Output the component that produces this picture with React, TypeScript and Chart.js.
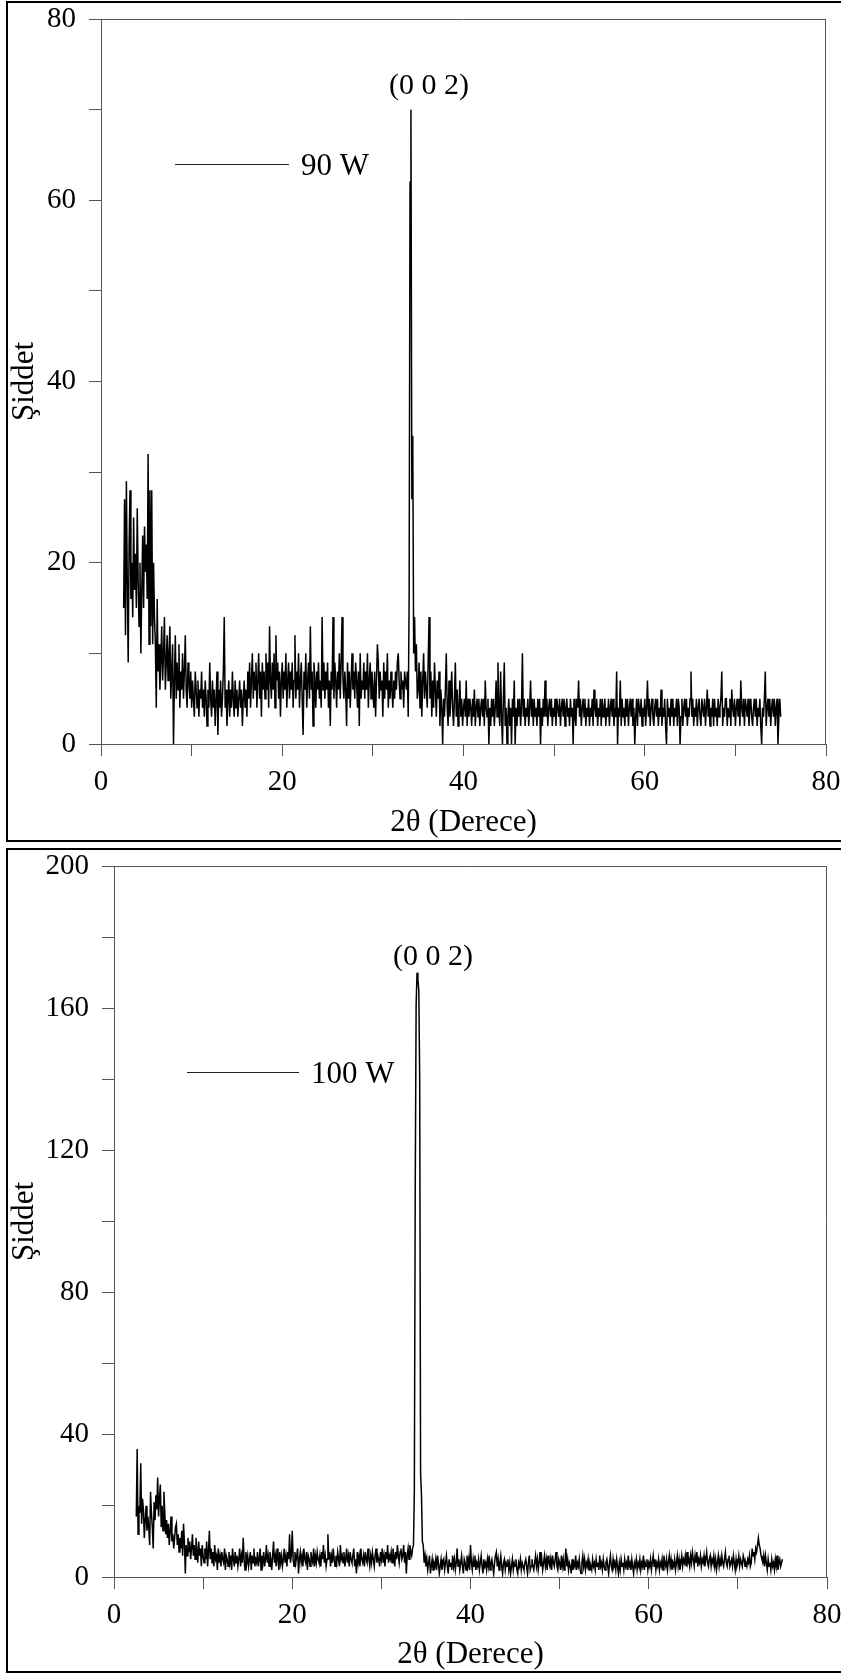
import React, { useEffect, useRef } from "react";
import { Chart, registerables } from "chart.js";

Chart.register(...registerables);

const FONT = "'Liberation Serif', 'Times New Roman', serif";

// sampling grid of both patterns (2θ, degrees)
const X_START = 2.5;
const X_STEP = 0.1;
const X_MIN = 0;
const X_MAX = 80;
const X_TICK_STEP = 10;
const X_LABELS = [0, 20, 40, 60, 80];
const Y_LABELS_90W = [0, 20, 40, 60, 80];
const Y_LABELS_100W = [0, 40, 80, 120, 160, 200];

// 90 W – intensity, 2.5° … 75.0° every 0.1°
const INTENSITY_90W = [
  15, 27, 12, 29, 18,
  9, 22, 28, 16, 20, 14, 25, 17, 21, 15,
  26, 18, 13, 20, 10, 17, 23, 15, 24, 19,
  22, 16, 32, 11, 28, 13, 28, 11, 20, 14,
  11, 4, 16, 8, 11, 6, 9, 13, 7, 10,
  14, 6, 9, 12, 7, 10, 13, 5, 8, 11,
  0, 7, 12, 5, 9, 6, 11, 4, 8, 6,
  10, 5, 8, 12, 6, 4, 9, 7, 5, 8,
  4, 7, 5, 3, 8, 6, 4, 7, 3, 6,
  5, 8, 4, 6, 3, 7, 5, 2, 6, 4,
  9, 5, 3, 7, 4, 6, 2, 5, 8, 1,
  6, 4, 7, 3, 5, 8, 14, 4, 6, 2,
  5, 7, 3, 6, 4, 8, 5, 3, 7, 4,
  6, 3, 5, 7, 4, 6, 2, 5, 7, 4,
  6, 3, 8, 5, 9, 4, 7, 10, 5, 8,
  6, 9, 4, 7, 10, 5, 8, 3, 9, 6,
  8, 5, 10, 6, 9, 4, 13, 7, 5, 9,
  6, 10, 4, 12, 7, 9, 5, 8, 3, 7,
  9, 5, 8, 6, 10, 4, 7, 9, 5, 8,
  6, 9, 4, 7, 12, 5, 8, 6, 10, 4,
  7, 9, 5, 1, 8, 6, 10, 4, 7, 9,
  5, 13, 6, 8, 2, 9, 7, 4, 8, 6,
  9, 5, 7, 4, 14, 6, 9, 5, 8, 6,
  9, 4, 7, 2, 8, 6, 14, 5, 9, 7,
  4, 8, 6, 10, 5, 9, 14, 7, 5, 8,
  6, 2, 9, 5, 8, 4, 7, 10, 6, 8,
  5, 9, 7, 4, 8, 2, 10, 5, 7, 6,
  9, 5, 8, 6, 10, 4, 7, 9, 5, 8,
  6, 4, 8, 3, 7, 11, 9, 5, 8, 6,
  7, 3, 9, 5, 8, 6, 10, 4, 7, 5,
  8, 6, 4, 7, 5, 8, 6, 9, 10, 7,
  5, 8, 6, 7, 4, 8, 7, 6, 8, 3,
  16, 62, 70, 27, 34, 10, 14, 8, 11, 5,
  6, 9, 4, 8, 3, 7, 10, 5, 8, 6,
  4, 9, 14, 5, 8, 3, 7, 4, 9, 6,
  3, 7, 5, 8, 2, 6, 4, 0, 5, 3,
  6, 10, 4, 2, 7, 3, 5, 8, 4, 2,
  5, 9, 3, 6, 2, 4, 7, 3, 5, 2,
  4, 5, 3, 7, 2, 5, 3, 5, 4, 2,
  5, 3, 6, 2, 4, 5, 3, 5, 2, 4,
  5, 3, 5, 2, 7, 4, 3, 5, 0, 4,
  2, 5, 3, 5, 2, 4, 7, 3, 9, 4,
  2, 8, 3, 0, 5, 9, 2, 4, 0, 3,
  5, 2, 4, 0, 5, 3, 7, 0, 4, 2,
  5, 3, 5, 2, 4, 10, 3, 5, 2, 4,
  3, 5, 2, 4, 7, 3, 5, 2, 5, 3,
  4, 2, 5, 3, 5, 0, 4, 2, 5, 3,
  7, 3, 5, 2, 4, 5, 3, 5, 2, 4,
  3, 5, 2, 5, 4, 3, 5, 2, 4, 5,
  3, 5, 2, 4, 5, 3, 4, 2, 5, 3,
  4, 0, 5, 3, 2, 5, 4, 7, 3, 5,
  2, 4, 5, 3, 5, 2, 4, 3, 5, 2,
  4, 3, 5, 2, 6, 4, 3, 5, 2, 4,
  3, 5, 2, 5, 3, 4, 5, 2, 4, 3,
  5, 2, 4, 5, 3, 5, 2, 4, 3, 8,
  0, 4, 3, 7, 2, 5, 3, 4, 2, 5,
  3, 5, 2, 4, 5, 3, 5, 2, 4, 0,
  3, 5, 2, 5, 4, 3, 5, 2, 4, 3,
  5, 2, 4, 7, 3, 5, 2, 4, 5, 3,
  2, 4, 5, 3, 5, 2, 4, 3, 6, 2,
  4, 3, 5, 2, 0, 5, 3, 4, 2, 5,
  3, 5, 2, 4, 3, 5, 2, 5, 4, 0,
  3, 5, 2, 4, 5, 3, 5, 2, 4, 3,
  5, 8, 3, 5, 2, 4, 3, 5, 2, 4,
  5, 3, 2, 5, 4, 3, 5, 2, 4, 6,
  3, 5, 2, 4, 3, 5, 2, 5, 3, 4,
  2, 5, 3, 4, 5, 8, 2, 4, 3, 5,
  5, 2, 4, 3, 5, 2, 6, 4, 3, 5,
  2, 4, 5, 3, 5, 2, 7, 4, 3, 5,
  2, 5, 4, 3, 5, 2, 4, 5, 3, 2,
  4, 5, 3, 5, 2, 4, 3, 5, 2, 0,
  4, 3, 5, 8, 2, 4, 5, 3, 5, 2,
  4, 5, 3, 5, 2, 4, 5, 0, 3, 5,
  3,
];

// 100 W – intensity, 2.5° … 75.0° every 0.1°
const INTENSITY_100W = [
  17, 36, 12, 20, 18,
  32, 15, 22, 19, 11, 16, 20, 13, 17, 14,
  9, 24, 18, 14, 8, 21, 16, 23, 19, 28,
  17, 22, 26, 14, 20, 13, 24, 18, 12, 16,
  11, 15, 9, 13, 17, 10, 12, 8, 11, 14,
  15, 9, 12, 7, 11, 8, 13, 6, 15, 10,
  1, 9, 6, 11, 7, 10, 5, 8, 12, 6,
  9, 5, 11, 7, 4, 10, 6, 8, 3, 9,
  6, 4, 8, 5, 10, 3, 7, 13, 5, 8,
  4, 7, 3, 9, 5, 6, 2, 8, 4, 6,
  3, 7, 5, 4, 8, 2, 6, 5, 3, 7,
  4, 6, 2, 8, 5, 3, 7, 4, 6, 3,
  5, 8, 3, 6, 4, 11, 5, 2, 7, 4,
  6, 3, 5, 7, 2, 6, 4, 8, 3, 5,
  4, 7, 3, 5, 8, 2, 6, 4, 7, 3,
  5, 9, 4, 6, 3, 7, 5, 2, 6, 10,
  4, 6, 3, 8, 5, 2, 7, 4, 6, 3,
  5, 8, 4, 6, 3, 7, 5, 12, 4, 6,
  13, 5, 3, 7, 4, 6, 8, 1, 5, 7,
  4, 6, 3, 8, 5, 4, 7, 2, 6, 5,
  3, 7, 5, 4, 8, 3, 6, 4, 7, 5,
  4, 6, 3, 7, 5, 9, 4, 6, 3, 5,
  12, 5, 7, 3, 6, 4, 8, 5, 3, 6,
  4, 7, 5, 3, 9, 5, 6, 4, 7, 3,
  5, 8, 4, 6, 3, 7, 5, 4, 6, 8,
  3, 5, 1, 7, 4, 6, 3, 8, 5, 4,
  6, 3, 7, 5, 4, 8, 5, 3, 6, 4,
  7, 5, 3, 6, 8, 4, 6, 5, 3, 7,
  5, 8, 4, 6, 3, 7, 5, 9, 4, 6,
  5, 7, 4, 8, 6, 3, 7, 5, 9, 6,
  4, 7, 8, 5, 6, 9, 4, 7, 1, 6,
  8, 5, 9, 7, 6, 8, 9, 24, 110, 161,
  170, 168, 165, 140, 29, 23, 10, 9, 4, 6,
  3, 5, 2, 4, 6, 1, 3, 5, 2, 4,
  3, 5, 2, 6, 4, 1, 3, 5, 2, 4,
  5, 2, 4, 6, 3, 1, 5, 3, 4, 2,
  6, 3, 5, 2, 4, 8, 3, 5, 2, 4,
  6, 3, 1, 5, 4, 2, 6, 3, 5, 2,
  9, 4, 2, 5, 3, 6, 2, 4, 3, 5,
  2, 4, 6, 3, 1, 5, 3, 4, 2, 5,
  3, 6, 2, 4, 5, 3, 1, 4, 6, 7,
  3, 5, 2, 4, 6, 3, 1, 4, 5, 2,
  4, 3, 5, 2, 4, 1, 3, 5, 2, 4,
  3, 5, 2, 1, 4, 3, 5, 2, 4, 3,
  2, 4, 5, 3, 1, 4, 6, 2, 3, 5,
  3, 2, 4, 6, 3, 5, 2, 4, 7, 3,
  5, 2, 4, 6, 3, 5, 2, 6, 4, 3,
  5, 2, 6, 4, 3, 5, 7, 3, 2, 5,
  4, 2, 6, 3, 5, 2, 4, 8, 3, 5,
  2, 4, 3, 1, 5, 2, 4, 3, 6, 2,
  4, 3, 5, 2, 1, 4, 6, 3, 5, 2,
  4, 3, 5, 2, 4, 3, 2, 5, 3, 4,
  2, 5, 3, 4, 2, 6, 3, 4, 2, 5,
  3, 2, 4, 5, 3, 1, 4, 6, 3, 2,
  5, 3, 4, 2, 5, 3, 1, 4, 2, 5,
  3, 4, 2, 5, 3, 4, 2, 6, 3, 4,
  2, 5, 3, 1, 4, 3, 5, 2, 4, 3,
  5, 2, 4, 3, 6, 2, 4, 3, 5, 2,
  4, 3, 5, 2, 4, 6, 3, 5, 2, 4,
  3, 5, 2, 4, 3, 5, 2, 6, 4, 3,
  5, 2, 4, 6, 3, 5, 2, 4, 3, 5,
  2, 4, 6, 3, 5, 2, 4, 6, 3, 5,
  4, 6, 3, 7, 4, 5, 3, 6, 4, 7,
  5, 3, 6, 4, 7, 3, 5, 4, 6, 3,
  5, 4, 6, 3, 5, 7, 4, 3, 5, 6,
  3, 5, 4, 6, 3, 5, 2, 4, 6, 3,
  5, 3, 6, 4, 3, 5, 7, 4, 3, 5,
  6, 3, 4, 5, 3, 6, 4, 2, 5, 3,
  4, 6, 3, 5, 4, 3, 6, 5, 3, 4,
  3, 5, 4, 6, 3, 4, 8, 6, 7, 5,
  8, 7, 9, 11, 9, 8, 6, 5, 4, 6,
  3, 6, 4, 2, 5, 3, 4, 2, 5, 3,
  4, 2, 5, 3, 6, 2, 4, 5, 3, 4,
  5,
];

interface PanelSpec {
  values: number[];
  yMax: number;
  yStep: number;
  yLabels: number[];
  legend: string;
  peakLabel: string;
  peakX: number;
  peakY: number;
  width: number;
  height: number;
  padRight: number;
  yAxisWidth: number;
  xAxisHeight: number;
  xTitlePad: number;
  legendDx: number;
  legendDy: number;
  legendLen: number;
}

const TOP: PanelSpec = {
  values: INTENSITY_90W,
  yMax: 80,
  yStep: 10,
  yLabels: Y_LABELS_90W,
  legend: "90 W",
  peakLabel: "(0 0 2)",
  peakX: 36.2,
  peakY: 72.6,
  width: 833,
  height: 837,
  padRight: 15,
  yAxisWidth: 93,
  xAxisHeight: 96,
  xTitlePad: 1.5,
  legendDx: 74,
  legendDy: 145,
  legendLen: 114,
};

const BOTTOM: PanelSpec = {
  values: INTENSITY_100W,
  yMax: 200,
  yStep: 20,
  yLabels: Y_LABELS_100W,
  legend: "100 W",
  peakLabel: "(0 0 2)",
  peakX: 35.8,
  peakY: 174.4,
  width: 833,
  height: 821,
  padRight: 14,
  yAxisWidth: 106,
  xAxisHeight: 94,
  xTitlePad: 0.5,
  legendDx: 73,
  legendDy: 206,
  legendLen: 112,
};

const AXIS_COLOR = "#555";

function decorPlugin(spec: PanelSpec) {
  return {
    id: "decor",
    afterDraw(chart: any) {
      const { ctx, chartArea: a, scales } = chart;
      ctx.save();
      // frame (top and right side of the plot box)
      ctx.strokeStyle = AXIS_COLOR;
      ctx.lineWidth = 1;
      ctx.beginPath();
      ctx.moveTo(a.left, Math.round(a.top) + 0.5);
      ctx.lineTo(a.right, Math.round(a.top) + 0.5);
      ctx.moveTo(Math.round(a.right) - 0.5, a.top);
      ctx.lineTo(Math.round(a.right) - 0.5, a.bottom);
      ctx.stroke();

      // legend sample
      const ly = Math.round(a.top + spec.legendDy) + 0.5;
      const lx = a.left + spec.legendDx;
      ctx.strokeStyle = "#222";
      ctx.beginPath();
      ctx.moveTo(lx, ly);
      ctx.lineTo(lx + spec.legendLen, ly);
      ctx.stroke();
      ctx.fillStyle = "#000";
      ctx.font = `31px ${FONT}`;
      ctx.textAlign = "left";
      ctx.textBaseline = "middle";
      ctx.fillText(spec.legend, lx + spec.legendLen + 12, ly + 2);

      // peak label
      const px = scales.x.getPixelForValue(spec.peakX);
      const py = scales.y.getPixelForValue(spec.peakY);
      ctx.font = `30px ${FONT}`;
      ctx.textAlign = "center";
      ctx.fillText(spec.peakLabel, px, py);
      ctx.restore();
    },
  };
}

function buildConfig(spec: PanelSpec): any {
  const points = spec.values.map((y, i) => ({ x: X_START + i * X_STEP, y }));
  const tickFont = { family: FONT, size: 29, lineHeight: 1 };
  const titleFont = { family: FONT, size: 31, lineHeight: 1 };
  return {
    type: "line",
    data: {
      datasets: [
        {
          data: points,
          borderColor: "#000",
          borderWidth: 1.5,
          pointRadius: 0,
          fill: false,
          tension: 0,
        },
      ],
    },
    options: {
      animation: false,
      responsive: false,
      events: [],
      layout: { padding: { left: 0, right: spec.padRight, top: 16, bottom: 0 } },
      plugins: { legend: { display: false }, tooltip: { enabled: false } },
      scales: {
        x: {
          type: "linear",
          min: X_MIN,
          max: X_MAX,
          ticks: {
            stepSize: X_TICK_STEP,
            autoSkip: false,
            maxRotation: 0,
            padding: 12,
            color: "#000",
            font: tickFont,
            callback: (v: number) => (X_LABELS.includes(v) ? String(v) : ""),
          },
          grid: {
            drawOnChartArea: false,
            drawTicks: true,
            tickLength: 12,
            color: AXIS_COLOR,
            lineWidth: 1,
          },
          border: { display: true, color: AXIS_COLOR, width: 1 },
          title: {
            display: true,
            text: "2θ (Derece)",
            color: "#000",
            font: titleFont,
            padding: { top: 0, bottom: spec.xTitlePad },
          },
          afterFit: (s: any) => {
            s.height = spec.xAxisHeight;
            s.paddingLeft = 0;
            s.paddingRight = 0;
          },
        },
        y: {
          type: "linear",
          min: 0,
          max: spec.yMax,
          ticks: {
            stepSize: spec.yStep,
            autoSkip: false,
            padding: 13,
            color: "#000",
            font: tickFont,
            callback: (v: number) => (spec.yLabels.includes(v) ? String(v) : ""),
          },
          grid: {
            drawOnChartArea: false,
            drawTicks: true,
            tickLength: 12,
            color: AXIS_COLOR,
            lineWidth: 1,
          },
          border: { display: true, color: AXIS_COLOR, width: 1 },
          title: {
            display: true,
            text: "Şiddet",
            color: "#000",
            font: titleFont,
            padding: { top: 1, bottom: 0 },
          },
          afterFit: (s: any) => {
            s.width = spec.yAxisWidth;
            s.paddingTop = 0;
            s.paddingBottom = 0;
          },
        },
      },
    },
    plugins: [decorPlugin(spec)],
  };
}

function Panel({ spec }: { spec: PanelSpec }) {
  const ref = useRef<HTMLCanvasElement>(null);
  useEffect(() => {
    if (!ref.current) return;
    const chart = new Chart(ref.current, buildConfig(spec));
    return () => chart.destroy();
  }, [spec]);
  return (
    <canvas
      ref={ref}
      width={spec.width}
      height={spec.height}
      style={{ display: "block", width: spec.width, height: spec.height }}
    />
  );
}

export default function App() {
  return (
    <div
      style={{
        position: "fixed",
        left: 0,
        top: 0,
        width: 841,
        height: 1675,
        overflow: "hidden",
        background: "#fff",
      }}
    >
      <div
        style={{
          position: "absolute",
          left: 6,
          top: 1,
          width: 850,
          height: 837,
          border: "2px solid #000",
        }}
      >
        <Panel spec={TOP} />
      </div>
      <div
        style={{
          position: "absolute",
          left: 6,
          top: 848,
          width: 850,
          height: 821,
          border: "2px solid #000",
        }}
      >
        <Panel spec={BOTTOM} />
      </div>
    </div>
  );
}
